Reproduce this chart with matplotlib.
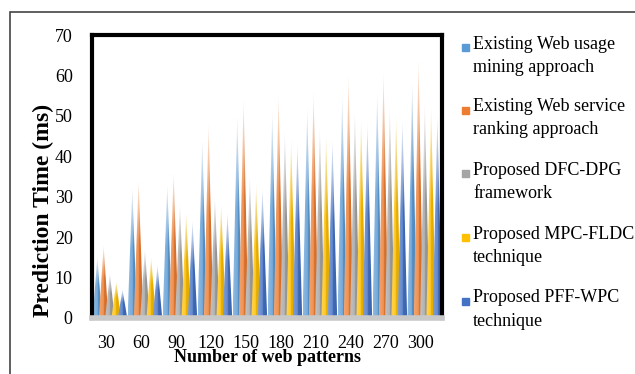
import matplotlib.pyplot as plt
import numpy as np
from matplotlib.patches import Polygon, Rectangle
from matplotlib.colors import to_rgb

plt.rcParams['font.family'] = ['Liberation Serif', 'DejaVu Serif']

patterns = [30, 60, 90, 120, 150, 180, 210, 240, 270, 300]
usage = [15, 32, 33, 44, 50, 51, 52, 55, 56, 58]
ranking = [18, 34, 36, 48, 54, 55, 56, 60, 61, 64]
dfc_dpg = [11, 17, 28, 30, 35, 46, 47, 51, 52, 53]
mpc_fldc = [9, 15, 26, 28, 33, 44, 45, 49, 50, 52]
pff_wpc = [7, 13, 24, 26, 32, 43, 44, 48, 49, 50]

series = [usage, ranking, dfc_dpg, mpc_fldc, pff_wpc]
names = ['Existing Web usage\nmining approach',
         'Existing Web service\nranking approach',
         'Proposed DFC-DPG\nframework',
         'Proposed MPC-FLDC\ntechnique',
         'Proposed PFF-WPC\ntechnique']
colors = ['#5B9BD5', '#ED7D31', '#A5A5A5', '#FFC000', '#4472C4']

fig = plt.figure(figsize=(6.35, 3.74), dpi=100)
ax = fig.add_axes([0.145, 0.15, 0.551, 0.756])

# outer frame of the picture
fig.patches.append(Rectangle((0.016, -0.05), 1.1, 1.018, transform=fig.transFigure,
                             fill=False, edgecolor='#444444', linewidth=1.2))

w = 0.27
for j, (vals, c) in enumerate(zip(series, colors)):
    rgb = np.array(to_rgb(c))
    light = rgb + (1 - rgb) * 0.3
    for i, v in enumerate(vals):
        x = i + 0.15 + j * 0.18
        tri = Polygon([(x - w / 2, 0), (x + w / 2, 0), (x, v)], closed=True,
                      facecolor='none', edgecolor='none')
        ax.add_patch(tri)
        # lighter on the left, darker right face, fading near the tip
        nx, ny = 16, 40
        img = np.zeros((ny, nx, 4))
        hx = np.linspace(0, 1, nx)
        col = light[None, :] * (1 - hx[:, None]) + rgb[None, :] * hx[:, None]
        col = np.where(hx[:, None] > 0.5, rgb * 0.9, col)
        img[:, :, :3] = col[None, :, :]
        hy = np.linspace(0, 1, ny)
        fade = np.clip(1 - (hy - 0.55) / 0.45, 0, 1) * 0.85 + 0.15
        img[:, :, 3] = fade[:, None]
        im = ax.imshow(img, extent=(x - w / 2, x + w / 2, 0, v), origin='lower',
                       aspect='auto', interpolation='bilinear', zorder=2)
        im.set_clip_path(tri)

ax.set_xlim(0, 10)
ax.set_ylim(0, 70)
ax.set_xticks(np.arange(len(patterns)) + 0.4)
ax.set_xticklabels([str(p) for p in patterns])
ax.set_yticks(np.arange(0, 71, 10))
ax.tick_params(length=0, labelsize=13)
ax.tick_params(axis='y', pad=14)
ax.tick_params(axis='x', pad=12)

for s in ['left', 'top', 'right']:
    ax.spines[s].set_linewidth(3)
    ax.spines[s].set_color('black')
ax.spines['bottom'].set_linewidth(4)
ax.spines['bottom'].set_color('#C8C8C8')

ax.set_ylabel('Prediction Time (ms)', fontsize=17, fontweight='bold')
ax.yaxis.set_label_coords(-0.11, 0.38)
ax.set_xlabel('Number of web patterns', fontsize=13, fontweight='bold', labelpad=-2)

# legend, marker beside the first line of each entry
ytops = [0.905, 0.738, 0.568, 0.397, 0.226]
for name, c, yt in zip(names, colors, ytops):
    fig.patches.append(Rectangle((0.728, yt - 0.042), 0.011, 0.019,
                                 transform=fig.transFigure, color=c))
    fig.text(0.745, yt, name, fontsize=13, va='top', ha='left', linespacing=1.5)

fig.savefig('out.png', dpi=100)
